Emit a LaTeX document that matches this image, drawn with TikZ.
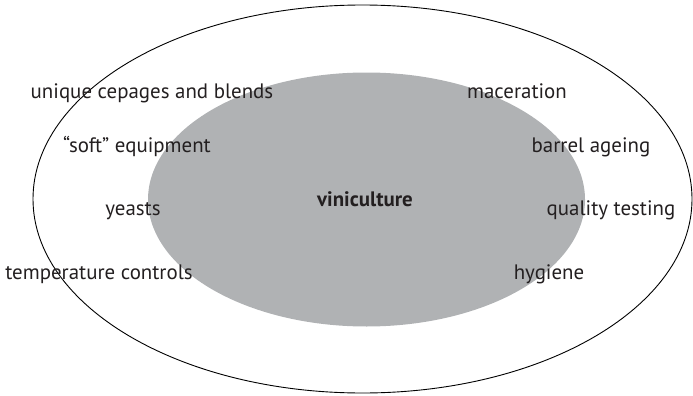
\documentclass[tikz,border=0pt]{standalone}
\usepackage{fontspec}
\setmainfont{PT Sans}
\definecolor{innergray}{HTML}{B0B2B4}
\definecolor{textdark}{HTML}{231F20}
\tikzset{
  lbl/.style={anchor=base, inner sep=0pt, text=textdark, font=\fontsize{20.9}{24}\selectfont},
  core/.style={lbl, font=\fontsize{20.9}{24}\selectfont\bfseries}
}
\begin{document}
\begin{tikzpicture}[x=1pt, y=-1pt]
        \useasboundingbox (0, 0) rectangle (693, 396);

        % Draw the inner and outer fields
        \fill[innergray] (366.5, 199.5) ellipse [x radius=218.5, y radius=127];
        \draw[line width=0.9pt] (362.5, 199) ellipse [x radius=329.5, y radius=194];

        % Add the core
        \node[core] (viniculture) at (365, 206) {viniculture};

        % Add the left labels
        \node[lbl] (cepages) at (152, 98.5) {unique cepages and blends};
        \node[lbl] (soft) at (137, 152.5) {“soft” equipment};
        \node[lbl] (yeasts) at (133, 215) {yeasts};
        \node[lbl] (temperature) at (99, 279.5) {temperature controls};

        % Add the right labels
        \node[lbl] (maceration) at (517, 98.5) {maceration};
        \node[lbl] (barrel) at (591, 152.5) {barrel ageing};
        \node[lbl] (quality) at (611, 215) {quality testing};
        \node[lbl] (hygiene) at (549, 279.5) {hygiene};
    \end{tikzpicture}
\end{document}
